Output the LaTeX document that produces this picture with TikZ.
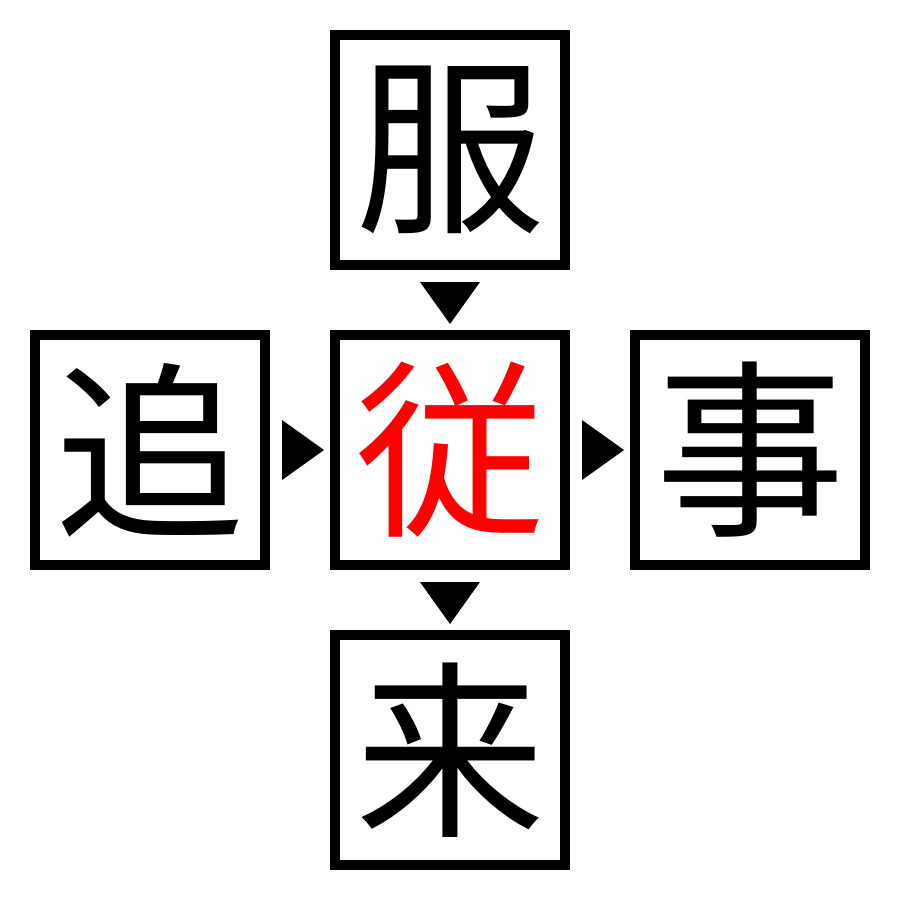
\documentclass[tikz,border=0pt]{standalone}
\usepackage{fontspec}
\usetikzlibrary{calc}
\newfontfamily\cjk{Noto Sans CJK JP}
\begin{document}
\begin{tikzpicture}[x=1pt,y=-1pt,
  kbox/.style={draw=black,line width=10pt,minimum width=230pt,minimum height=230pt,inner sep=0pt,outer sep=0pt,font=\cjk\fontsize{190}{190}\selectfont},
  tri/.style={fill=black,draw=none}]
\useasboundingbox (0,0) rectangle (900,900);
\node[kbox] (top) at (450,150) {服};
\node[kbox,text={rgb,255:red,255;green,0;blue,0}] (mid) at (450,450) {従};
\node[kbox] (left) at (150,450) {追};
\node[kbox] (right) at (750,450) {事};
\node[kbox] (bot) at (450,750) {来};
\coordinate (a1) at ($(top.south)!0.5!(mid.north)$);
\coordinate (a2) at ($(mid.south)!0.5!(bot.north)$);
\coordinate (a3) at ($(left.east)!0.5!(mid.west)$);
\coordinate (a4) at ($(mid.east)!0.5!(right.west)$);
\fill[tri] ($(a1)+(-30,-18)$) -- ($(a1)+(30,-18)$) -- ($(a1)+(0,24)$) -- cycle;
\fill[tri] ($(a2)+(-30,-18)$) -- ($(a2)+(30,-18)$) -- ($(a2)+(0,24)$) -- cycle;
\fill[tri] ($(a3)+(-18,-30)$) -- ($(a3)+(-18,30)$) -- ($(a3)+(24,0)$) -- cycle;
\fill[tri] ($(a4)+(-18,-30)$) -- ($(a4)+(-18,30)$) -- ($(a4)+(24,0)$) -- cycle;
\end{tikzpicture}
\end{document}
